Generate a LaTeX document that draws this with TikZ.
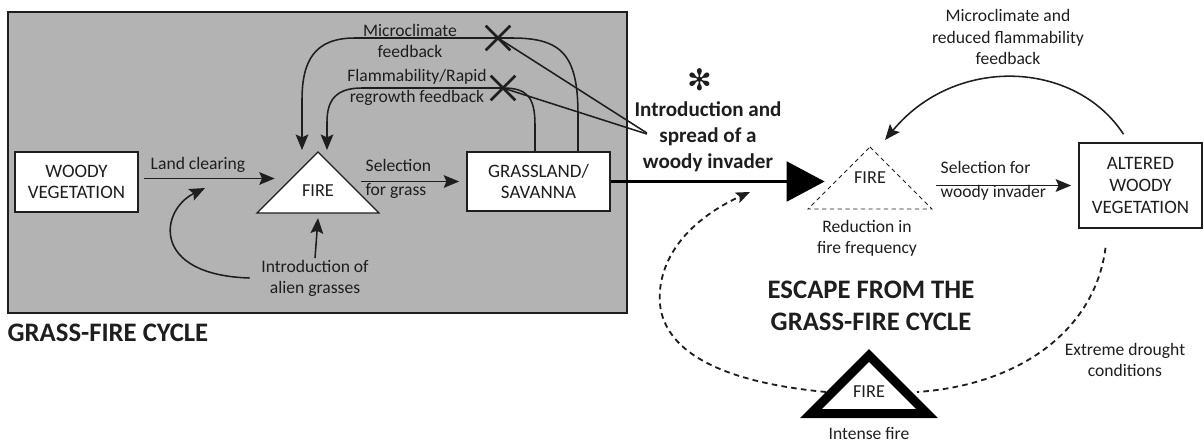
\documentclass[tikz,border=0pt]{standalone}
\usepackage{fontspec}
\setmainfont{Carlito}
\newfontfamily\dingfont{DejaVu Sans}
\usepackage{xcolor}
\usepackage{tikz}
\usetikzlibrary{arrows.meta,calc,shapes.misc}

\definecolor{cyclegray}{RGB}{179,179,179}
\definecolor{ink}{RGB}{30,30,30}

\tikzset{
  box/.style={draw=ink, line width=1.1pt, fill=white, text=ink, align=center, inner sep=2pt,
    font=\fontsize{13.5}{15.5}\selectfont},
  lbl/.style={text=ink, align=center, inner sep=1pt, font=\fontsize{12.5}{15}\selectfont},
  firetxt/.style={text=ink, inner sep=1pt, font=\fontsize{13}{15}\selectfont},
  head/.style={text=ink, align=center, inner sep=1pt, font=\fontsize{19}{22.8}\selectfont\bfseries},
  arr/.style={draw=ink, line width=1.1pt, -{Stealth[length=11pt,width=9pt,inset=2pt]}},
  bigarr/.style={draw=black, line width=2.8pt, -{Triangle[length=27pt,width=28pt]}},
  dashline/.style={draw=ink, line width=1.3pt, dash pattern=on 4pt off 3pt},
  dasharr/.style={dashline, -{Stealth[length=10pt,width=8pt,inset=2pt]}},
  tri/.style={draw=ink, line width=0.8pt, fill=white, line join=miter},
  crossmark/.style={cross out, draw=ink, line width=1.8pt, minimum size=0.55cm, inner sep=0pt},
}

\begin{document}
\begin{tikzpicture}[x=0.025cm, y=-0.025cm]
  \useasboundingbox (0,0) rectangle (1204,441);

  % grass-fire cycle panel
  \draw[draw=ink, line width=1.1pt, fill=cyclegray] (8,12) rectangle (627,313);
  \draw[tri] (318,152) -- (379,213) -- (257,213) -- cycle;

  \node[box, minimum width=3.075cm, minimum height=1.5cm] (wood) at (76.5,182) {WOODY\\VEGETATION};
  \node[firetxt, minimum width=2.15cm] (fireA) at (318,191) {FIRE};
  \node[box, minimum width=3.575cm, minimum height=1.475cm] (grass) at (538.5,181.5) {GRASSLAND/\\SAVANNA};

  \node[lbl] (clear) at (198,165) {Land clearing};
  \node[lbl, anchor=west] (sel1) at (364,165) {Selection};
  \node[lbl, anchor=west] (sel2) at (364,191) {for grass};
  \node[lbl] (alien) at (315,278) {Introduction of\\alien grasses};
  \node[lbl] (micro) at (410,41) {Microclimate\\feedback};
  \node[lbl] (flam) at (417,87) {Flammability/Rapid\\regrowth feedback};

  \draw[arr, shorten <=4pt] ([yshift=2.5pt]wood.east) -- ([yshift=2.5pt]wood.east -| fireA.west);
  \draw[arr, shorten >=5pt] (fireA.east |- grass.west) -- (grass.west);
  \draw[arr] (alien.north) -- ($(fireA)+(0,27)$);
  \draw[arr] ($(alien.west)+(-10,0)$) .. controls (150,275) and (160,210) .. ($(clear)+(7,23)$);

  % feedbacks that are cut
  \node[crossmark] (xmicro) at (498,38) {};
  \node[crossmark] (xflam) at (503,88) {};
  \draw[arr] ($(grass.north)+(39.5,0)$) -- (578,115) .. controls (578,55) and (562,38) .. (512,38)
    -- (xmicro.center) -- (355,38) .. controls (315,38) and (302,60) .. (302,100) -- ($(fireA)+(-16,-41)$);
  \draw[arr] ($(grass.north)+(-3.5,0)$) -- (535,125) .. controls (535,97) and (527,88) .. (xflam.center)
    -- (362,88) .. controls (336,88) and (327,100) .. (327,122) -- ($(fireA)+(9,-41)$);

  % invasion
  \node[text=ink, inner sep=0pt, font=\dingfont\fontsize{21}{21}\selectfont] (star) at (700,80) {✻};
  \node[text=ink, align=center, inner sep=1pt, font=\fontsize{15}{18.5}\selectfont\bfseries] (invader) at (708,137) {Introduction and\\spread of a\\woody invader};
  \draw[ink, line width=1.1pt] (xmicro.center) -- ($(invader.west)+(14,-4)$);
  \draw[ink, line width=1.1pt] (xflam.center) -- ($(invader.west)+(14,-3)$);

  % escape from the cycle
  \draw[tri, fill=none, line width=0.7pt, dash pattern=on 3pt off 2.5pt] (870,147) -- (932,209) -- (808,209) -- cycle;
  \node[firetxt, minimum width=2.25cm] (fireB) at (870,178) {FIRE};
  \node[box, minimum width=3.075cm, minimum height=2.125cm] (altered) at (1140.5,185.5) {ALTERED\\WOODY\\VEGETATION};
  \node[lbl] (redux) at (867,238) {Reduction in\\fire frequency};
  \node[lbl, anchor=west] (selw1) at (939,167) {Selection for};
  \node[lbl, anchor=west] (selw2) at (939,193) {woody invader};
  \node[lbl] (altfb) at (1008,37) {Microclimate and\\reduced flammability\\feedback};

  \draw[bigarr] (grass.east) -- (grass.east -| fireB.west);
  \draw[arr, shorten <=15pt, shorten >=5pt] (fireB.east |- altered.west) -- (altered.west);
  \draw[arr] ($(altered.north)+(-17,-8)$) .. controls (1075,60) and (955,55) .. ($(fireB)+(15,-38)$);

  % intense fire under drought
  \node[head] (escapehead) at (871,306) {ESCAPE FROM THE\\GRASS-FIRE CYCLE};
  \node[lbl] (drought) at (1125,360) {Extreme drought\\conditions};
  \coordinate (escape) at (750,192);
  \draw[dashline] ($(altered.south)+(-35,19)$) .. controls (1095,330) and (1020,385) .. (917,392);
  \draw[dasharr] (826,392) .. controls (700,380) and (655,340) .. (660,290) .. controls (665,240) and (710,210) .. (escape);
  \draw[draw=black, line width=6.4pt, fill=white, line join=miter] (869,355.4) -- (927.1,413.5) -- (810.9,413.5) -- cycle;
  \node[firetxt] (fireC) at (869,392) {FIRE};
  \node[lbl] (intense) at (869,433) {Intense fire};

  \node[head, anchor=west] (cyclehead) at (6,333) {GRASS-FIRE CYCLE};
\end{tikzpicture}
\end{document}
